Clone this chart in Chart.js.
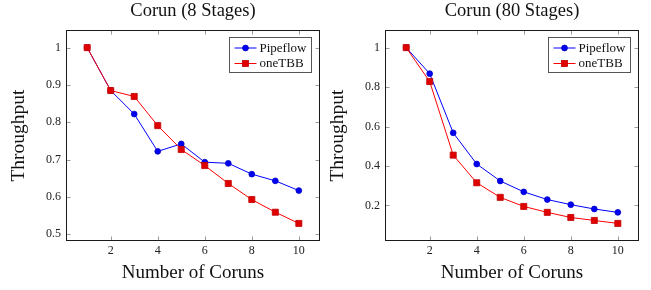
<!DOCTYPE html>
<html>
<head>
<meta charset="utf-8">
<script src="https://cdn.jsdelivr.net/npm/chart.js@4.4.1/dist/chart.umd.min.js"></script>
<style>
  html, body { margin: 0; padding: 0; background: #fff; }
  #wrap { position: relative; width: 651px; height: 290px; overflow: hidden; }
  .box { position: absolute; top: 0; width: 330px; height: 290px; }
</style>
</head>
<body>
<div id="wrap">
  <div class="box" style="left:0"><canvas id="chart8" width="330" height="290"></canvas></div>
  <div class="box" style="left:319px"><canvas id="chart80" width="330" height="290"></canvas></div>
</div>
<script>
// số corun trên trục x
const corunCounts = [1, 2, 3, 4, 5, 6, 7, 8, 9, 10];
const xTickValues = [2, 4, 6, 8, 10];

// Corun (8 Stages)
const pipeflow8 = [1.0, 0.885, 0.822, 0.722, 0.742, 0.693, 0.690, 0.661, 0.643, 0.617];
const onetbb8 = [1.0, 0.885, 0.869, 0.791, 0.727, 0.684, 0.636, 0.593, 0.559, 0.529];
const yTicks8 = [0.5, 0.6, 0.7, 0.8, 0.9, 1];

// Corun (80 Stages)
const pipeflow80 = [1.0, 0.868, 0.568, 0.410, 0.324, 0.269, 0.230, 0.204, 0.182, 0.165];
const onetbb80 = [1.0, 0.828, 0.455, 0.315, 0.241, 0.195, 0.165, 0.139, 0.124, 0.109];
const yTicks80 = [0.2, 0.4, 0.6, 0.8, 1];

const SERIF = "'Liberation Serif', 'DejaVu Serif', serif";

// khung trục, vạch chia, tiêu đề và chú giải kiểu pgfplots
const pgfFrame = {
    id: 'pgfFrame',
    afterDraw(chart, args, opts) {
        const ctx = chart.ctx;
        const a = chart.chartArea;
        const xs = chart.scales.x, ys = chart.scales.y;
        const L = Math.round(a.left) + 0.5, R = Math.round(a.right) - 0.5;
        const T = Math.round(a.top) + 0.5, B = Math.round(a.bottom) - 0.5;
        ctx.save();
        ctx.lineWidth = 1;
        ctx.strokeStyle = '#9a9a9a';
        ctx.beginPath();
        xs.ticks.forEach(t => {
            const p = Math.round(xs.getPixelForValue(t.value)) + 0.5;
            ctx.moveTo(p, B); ctx.lineTo(p, B - 4);
            ctx.moveTo(p, T); ctx.lineTo(p, T + 4);
        });
        ys.ticks.forEach(t => {
            const p = Math.round(ys.getPixelForValue(t.value)) + 0.5;
            ctx.moveTo(L, p); ctx.lineTo(L + 4, p);
            ctx.moveTo(R, p); ctx.lineTo(R - 4, p);
        });
        ctx.stroke();

        ctx.strokeStyle = '#1a1a1a';
        ctx.strokeRect(L, T, R - L, B - T);

        // tiêu đề
        ctx.fillStyle = '#111';
        ctx.font = '18.5px ' + SERIF;
        ctx.textAlign = 'center';
        ctx.textBaseline = 'alphabetic';
        ctx.fillText(opts.title, (a.left + a.right) / 2, 15.5);

        // chú giải
        const bx = 229.5, by = 37.5, bw = 82, bh = 35;
        ctx.fillStyle = '#fff';
        ctx.fillRect(bx, by, bw, bh);
        ctx.strokeStyle = '#555';
        ctx.strokeRect(bx, by, bw, bh);
        ctx.font = '13px ' + SERIF;
        ctx.textAlign = 'left';
        ctx.textBaseline = 'middle';
        chart.data.datasets.forEach((ds, i) => {
            const ry = by + 10.5 + i * 15.5;
            ctx.strokeStyle = ds.borderColor;
            ctx.beginPath();
            ctx.moveTo(bx + 5, ry); ctx.lineTo(bx + 27, ry);
            ctx.stroke();
            ctx.fillStyle = ds.pointBackgroundColor;
            ctx.strokeStyle = ds.pointBorderColor;
            ctx.lineWidth = 0.8;
            if (ds.pointStyle === 'rect') {
                ctx.fillRect(bx + 13, ry - 3, 6, 6);
                ctx.strokeRect(bx + 13, ry - 3, 6, 6);
            } else {
                ctx.beginPath();
                ctx.arc(bx + 16, ry, 2.9, 0, Math.PI * 2);
                ctx.fill(); ctx.stroke();
            }
            ctx.lineWidth = 1;
            ctx.fillStyle = '#111';
            ctx.fillText(ds.label, bx + 30, ry + 0.5);
        });
        ctx.restore();
    }
};

function enlarged(values) {
    const lo = Math.min(...values), hi = Math.max(...values);
    const pad = (hi - lo) * 0.1;
    return { min: lo - pad, max: hi + pad };
}

function makeChart(canvasId, title, pipeflow, onetbb, yTicks) {
    const yr = enlarged(pipeflow.concat(onetbb));
    const ctx = document.getElementById(canvasId).getContext('2d');
    return new Chart(ctx, {
        type: 'line',
        data: {
            labels: corunCounts,
            datasets: [
                {
                    label: 'Pipeflow',
                    data: corunCounts.map((c, i) => ({ x: c, y: pipeflow[i] })),
                    borderColor: '#0000ff', borderWidth: 1,
                    pointStyle: 'circle', pointRadius: 2.9,
                    pointBackgroundColor: '#0000f0', pointBorderColor: '#0000c8', pointBorderWidth: 0.8,
                    tension: 0, order: 1
                },
                {
                    label: 'oneTBB',
                    data: corunCounts.map((c, i) => ({ x: c, y: onetbb[i] })),
                    borderColor: '#ff0000', borderWidth: 1,
                    pointStyle: 'rect', pointRadius: 4.3,
                    pointBackgroundColor: '#e00000', pointBorderColor: '#c00000', pointBorderWidth: 0.8,
                    tension: 0, order: 0
                }
            ]
        },
        options: {
            responsive: false,
            animation: false,
            events: [],
            layout: { padding: { top: 30, right: 10, bottom: 0, left: 0 } },
            plugins: {
                legend: { display: false },
                tooltip: { enabled: false },
                pgfFrame: { title: title }
            },
            scales: {
                x: {
                    type: 'linear', min: 0.1, max: 10.9,
                    afterBuildTicks: (s) => { s.ticks = xTickValues.map(v => ({ value: v })); },
                    afterFit: (s) => { s.height = 49; },
                    grid: { display: false, drawTicks: false },
                    border: { display: false },
                    ticks: {
                        autoSkip: false, maxRotation: 0, padding: 3,
                        color: '#222', font: { family: SERIF, size: 12 },
                        callback: (v) => String(v)
                    },
                    title: {
                        display: true, text: 'Number of Coruns', color: '#111',
                        font: { family: SERIF, size: 19 }, padding: { top: 0, bottom: 5.6 }
                    }
                },
                y: {
                    type: 'linear', min: yr.min, max: yr.max,
                    afterBuildTicks: (s) => { s.ticks = yTicks.map(v => ({ value: v })); },
                    afterFit: (s) => { s.width = 66; },
                    grid: { display: false, drawTicks: false },
                    border: { display: false },
                    ticks: {
                        padding: 5,
                        color: '#222', font: { family: SERIF, size: 12 },
                        callback: (v) => String(Math.round(v * 10) / 10)
                    },
                    title: {
                        display: true, text: 'Throughput', color: '#111',
                        font: { family: SERIF, size: 19.5 }, padding: { top: 7.4, bottom: 0 }
                    }
                }
            }
        },
        plugins: [pgfFrame]
    });
}

makeChart('chart8', 'Corun (8 Stages)', pipeflow8, onetbb8, yTicks8);
makeChart('chart80', 'Corun (80 Stages)', pipeflow80, onetbb80, yTicks80);
</script>
</body>
</html>
